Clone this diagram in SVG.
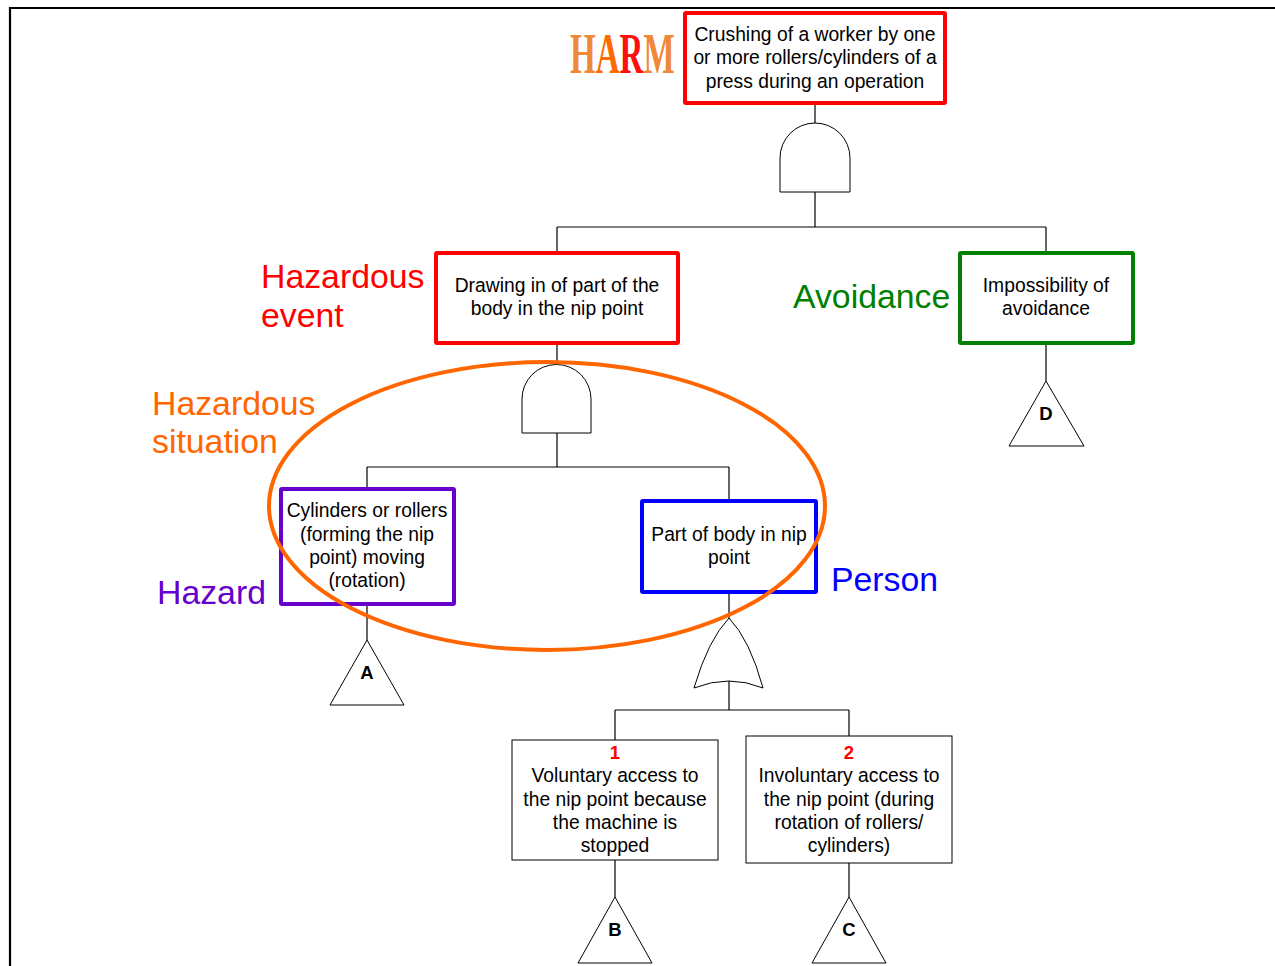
<svg xmlns="http://www.w3.org/2000/svg" width="1275" height="966" viewBox="0 0 1275 966">
  <style>
    .box{fill:#fff;}
    .t{font-family:"Liberation Sans",Arial,sans-serif;font-size:19.3px;fill:#000;text-anchor:middle;dominant-baseline:central;}
    .lbl{font-family:"Liberation Sans",Arial,sans-serif;font-size:33.8px;}
    .tri{fill:#fff;stroke:#000;stroke-width:1;}
    .tl{font-family:"Liberation Sans",Arial,sans-serif;font-size:18.5px;font-weight:bold;text-anchor:middle;dominant-baseline:central;}
    .gate{fill:#fff;stroke:#000;stroke-width:1;}
    .ln{fill:none;stroke:#000;stroke-width:1.2;}
  </style>
  <rect width="1275" height="966" fill="#fff"/>
  <!-- frame -->
  <path d="M10,966 V8 H1275" fill="none" stroke="#000" stroke-width="2.2"/>

  <g id="connectors">
    <path class="ln" d="M815,103 V124 M815,192 V227 M557,227 H1046 M557,227 V253 M1046,227 V253"/>
    <path class="ln" d="M557,343 V365 M557,433 V467 M367,467 H729 M367,467 V489 M729,467 V501"/>
    <path class="ln" d="M1046,343 V381 M367,604 V640 M729,592 V618 M729,681 V710 M615,710 H849 M615,710 V740 M849,710 V736"/>
    <path class="ln" d="M615,860 V897 M849,863 V897"/>
  </g>

  <!-- gates -->
  <g id="gate-and-top"><path class="gate" d="M780,192 V158 A35,35 0 0 1 850,158 V192 Z"/></g>
  <g id="gate-and-mid"><path class="gate" d="M522,433 V399 A34.5,34.5 0 0 1 591,399 V433 Z"/></g>
  <g id="gate-or"><path class="gate" d="M694,688 Q708,640 729,618 Q750,640 763,688 Q729,674 694,688 Z"/></g>

  <!-- top event -->
  <g id="harm">
    <text transform="translate(570,73) scale(0.58,1)" font-family="'Liberation Serif',serif" font-weight="bold" font-size="57"><tspan fill="#F0883A">H</tspan><tspan fill="#FF6A00">A</tspan><tspan fill="#FF1010">R</tspan><tspan fill="#F0883A">M</tspan></text>
    <rect class="box" x="685" y="13" width="260" height="90" stroke="#FF0000" stroke-width="4" rx="1"/>
    <text class="t" x="815" y="34">Crushing of a worker by one</text>
    <text class="t" x="815" y="57">or more rollers/cylinders of a</text>
    <text class="t" x="815" y="81">press during an operation</text>
  </g>

  <g id="hazardous-event">
    <text class="lbl" x="261" y="288" fill="#FF0000">Hazardous</text>
    <text class="lbl" x="261" y="327" fill="#FF0000">event</text>
    <rect class="box" x="436" y="253" width="242" height="90" stroke="#FF0000" stroke-width="4" rx="1"/>
    <text class="t" x="557" y="285">Drawing in of part of the</text>
    <text class="t" x="557" y="308">body in the nip point</text>
  </g>

  <g id="avoidance">
    <text class="lbl" x="793" y="308" fill="#008000">Avoidance</text>
    <rect class="box" x="960" y="253" width="173" height="90" stroke="#008000" stroke-width="4" rx="1"/>
    <text class="t" x="1046" y="285">Impossibility of</text>
    <text class="t" x="1046" y="308">avoidance</text>
  </g>

  <g id="tri-d">
    <path class="tri" d="M1046,381 L1084,446 H1009 Z"/>
    <text class="tl" x="1046" y="413">D</text>
  </g>

  <g id="hazard">
    <text class="lbl" x="157" y="604" fill="#6600CC">Hazard</text>
    <rect class="box" x="281" y="489" width="173" height="115" stroke="#6600CC" stroke-width="4" rx="1"/>
    <text class="t" x="367" y="510">Cylinders or rollers</text>
    <text class="t" x="367" y="534">(forming the nip</text>
    <text class="t" x="367" y="557">point) moving</text>
    <text class="t" x="367" y="580">(rotation)</text>
  </g>

  <g id="person">
    <text class="lbl" x="831" y="591" fill="#0000FF">Person</text>
    <rect class="box" x="642" y="501" width="174" height="91" stroke="#0000FF" stroke-width="4" rx="1"/>
    <text class="t" x="729" y="534">Part of body in nip</text>
    <text class="t" x="729" y="557">point</text>
  </g>

  <g id="hazardous-situation">
    <text class="lbl" x="152" y="415" fill="#FF6600">Hazardous</text>
    <text class="lbl" x="152" y="453" fill="#FF6600">situation</text>
    <ellipse cx="547" cy="506" rx="278" ry="144" fill="none" stroke="#FF6600" stroke-width="4"/>
  </g>

  <g id="tri-a">
    <path class="tri" d="M367,640 L404,705 H330 Z"/>
    <text class="tl" x="367" y="672">A</text>
  </g>

  <g id="cause-1">
    <rect class="box" x="512" y="740" width="206" height="120" stroke="#000" stroke-width="1"/>
    <text class="tl" x="615" y="752" fill="#FF0000">1</text>
    <text class="t" x="615" y="775">Voluntary access to</text>
    <text class="t" x="615" y="799">the nip point because</text>
    <text class="t" x="615" y="822">the machine is</text>
    <text class="t" x="615" y="845">stopped</text>
  </g>

  <g id="cause-2">
    <rect class="box" x="746" y="736" width="206" height="127" stroke="#000" stroke-width="1"/>
    <text class="tl" x="849" y="752" fill="#FF0000">2</text>
    <text class="t" x="849" y="775">Involuntary access to</text>
    <text class="t" x="849" y="799">the nip point (during</text>
    <text class="t" x="849" y="822">rotation of rollers/</text>
    <text class="t" x="849" y="845">cylinders)</text>
  </g>

  <g id="tri-b">
    <path class="tri" d="M615,897 L652,963 H578 Z"/>
    <text class="tl" x="615" y="929">B</text>
  </g>
  <g id="tri-c">
    <path class="tri" d="M849,897 L886,963 H812 Z"/>
    <text class="tl" x="849" y="929">C</text>
  </g>
</svg>
